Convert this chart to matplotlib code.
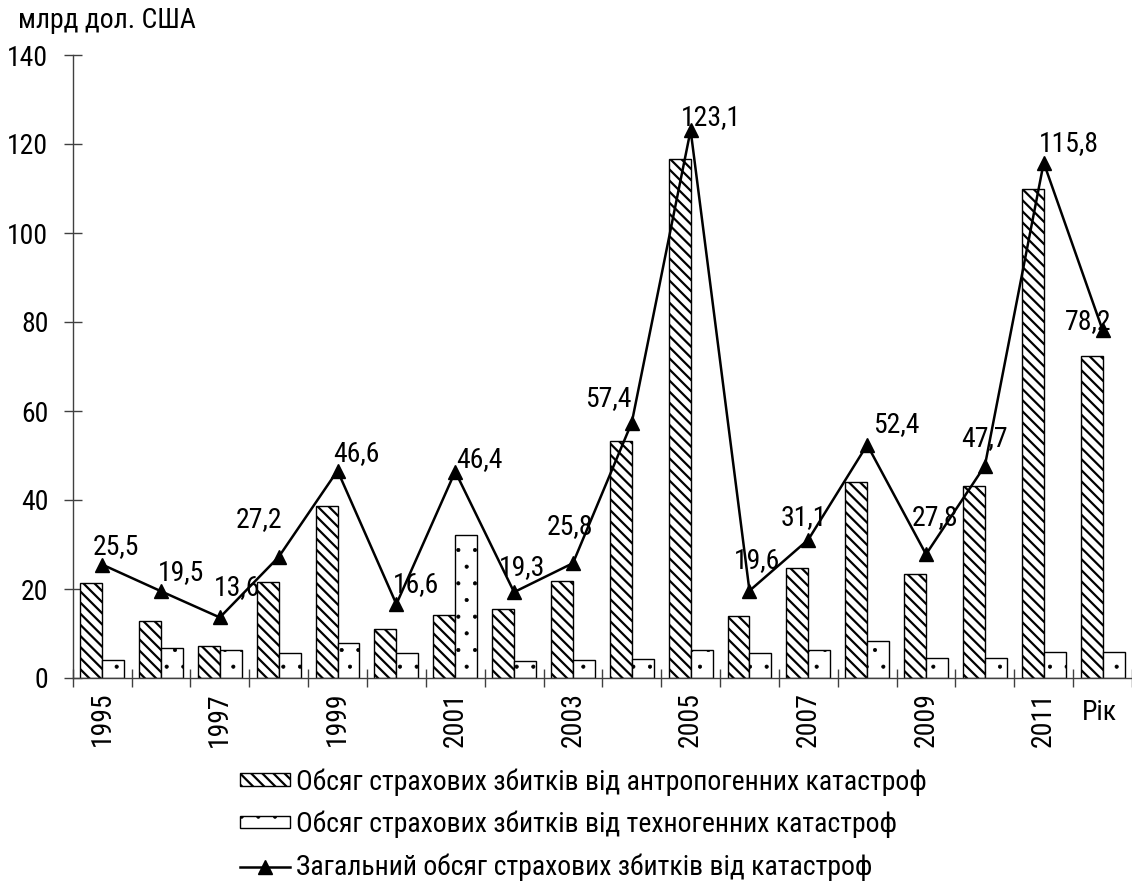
import matplotlib
matplotlib.use("Agg")
import matplotlib.pyplot as plt
import numpy as np

years = list(range(1995, 2013))
anthropogenic = [21.4, 12.7, 7.3, 21.5, 38.7, 10.9, 14.2, 15.5, 21.8, 53.2,
                 116.7, 14.0, 24.8, 44.0, 23.4, 43.1, 110.0, 72.3]
technogenic = [4.1, 6.8, 6.3, 5.7, 7.9, 5.7, 32.2, 3.8, 4.0, 4.2,
               6.4, 5.6, 6.3, 8.4, 4.4, 4.6, 5.8, 5.9]
total = [25.5, 19.5, 13.6, 27.2, 46.6, 16.6, 46.4, 19.3, 25.8, 57.4,
         123.1, 19.6, 31.1, 52.4, 27.8, 47.7, 115.8, 78.2]
total_labels = ["25,5", "19,5", "13,6", "27,2", "46,6", "16,6", "46,4", "19,3", "25,8", "57,4",
                "123,1", "19,6", "31,1", "52,4", "27,8", "47,7", "115,8", "78,2"]
tick_labels = [str(y) if (y - 1995) % 2 == 0 else "" for y in years]
legend_labels = ["Обсяг страхових збитків від антропогенних катастроф",
                 "Обсяг страхових збитків від техногенних катастроф",
                 "Загальний обсяг страхових збитків від катастроф"]

# label offsets in pixels (dx, dy) relative to marker (styling only)
label_offsets = [(14, 18), (20, 19), (17, 30), (-20, 37), (19, 17), (20, 20), (24, 12),
                 (8, 25), (-3, 37), (-23, 24), (20, 13), (8, 30), (-5, 22), (29, 20),
                 (9, 37), (0, 27), (25, 19), (-14, 8)]

plt.rcParams['font.family'] = ['Roboto Condensed', 'Fira Sans Condensed', 'DejaVu Sans']
plt.rcParams['hatch.linewidth'] = 1.6
FS = 20

W, H = 1132, 885
fig = plt.figure(figsize=(W / 100, H / 100), dpi=100)
left_px, right_px, top_px, bot_px = 72.7, 1132, 55, 678
ax = fig.add_axes([left_px / W, (H - bot_px) / H, (right_px - left_px) / W, (bot_px - top_px) / H])

x = np.arange(len(years))
bw = 0.373
b1 = ax.bar(x - bw / 2, anthropogenic, bw, color='white', edgecolor='black', linewidth=1.0,
            hatch='\\\\\\', label=legend_labels[0], zorder=2)
b2 = ax.bar(x + bw / 2, technogenic, bw, color='white', edgecolor='black', linewidth=1.0,
            hatch='.', label=legend_labels[1], zorder=2)
for p in b2.patches:
    p.set_hatch_linewidth(0.5)
ln, = ax.plot(x, total, color='black', linewidth=1.8, marker='^', markersize=10,
              label=legend_labels[2], zorder=3)

for xi, v, lab, (dx, dy) in zip(x, total, total_labels, label_offsets):
    ax.annotate(lab, (xi, v), xytext=(dx, dy), textcoords='offset pixels',
                ha='center', va='center', fontsize=FS, zorder=4)

ax.set_xlim(-0.5, -0.5 + (right_px - left_px) / 59.0)
ax.set_ylim(0, 140)
ax.set_yticks(np.arange(0, 141, 20))
ax.set_xticks(x)
ax.set_xticklabels(tick_labels, rotation=90, fontsize=FS)
ax.set_xticks(np.arange(-0.5, len(years) + 0.5, 1), minor=True)
ax.tick_params(axis='x', which='major', length=0, pad=10)
ax.tick_params(axis='x', which='minor', length=13, direction='inout', width=1.0, color='#404040')
ax.tick_params(axis='y', which='major', length=13, direction='inout', width=1.0, color='#404040',
               labelsize=FS, pad=11)

for s in ['top', 'right']:
    ax.spines[s].set_visible(False)
for s in ['left', 'bottom']:
    ax.spines[s].set_color('#404040')
    ax.spines[s].set_linewidth(1.0)

fig.text(18 / W, (H - 28) / H, "млрд дол. США", fontsize=FS, ha='left', va='baseline')
ax.text(16.95, -7.7, "Рік", fontsize=FS, ha='center', va='center')

leg = fig.legend(handles=[b1, b2, ln], labels=legend_labels, loc='upper left',
                 bbox_to_anchor=(240 / W, (H - 768) / H), frameon=False, fontsize=FS,
                 handlelength=1.8, handleheight=0.3, handletextpad=0.2, labelspacing=0.55,
                 borderpad=0, borderaxespad=0, numpoints=1)
for h in leg.legend_handles[1:2]:
    try:
        h.set_hatch_linewidth(0.5)
    except Exception:
        pass

fig.savefig("out.png", dpi=100)
